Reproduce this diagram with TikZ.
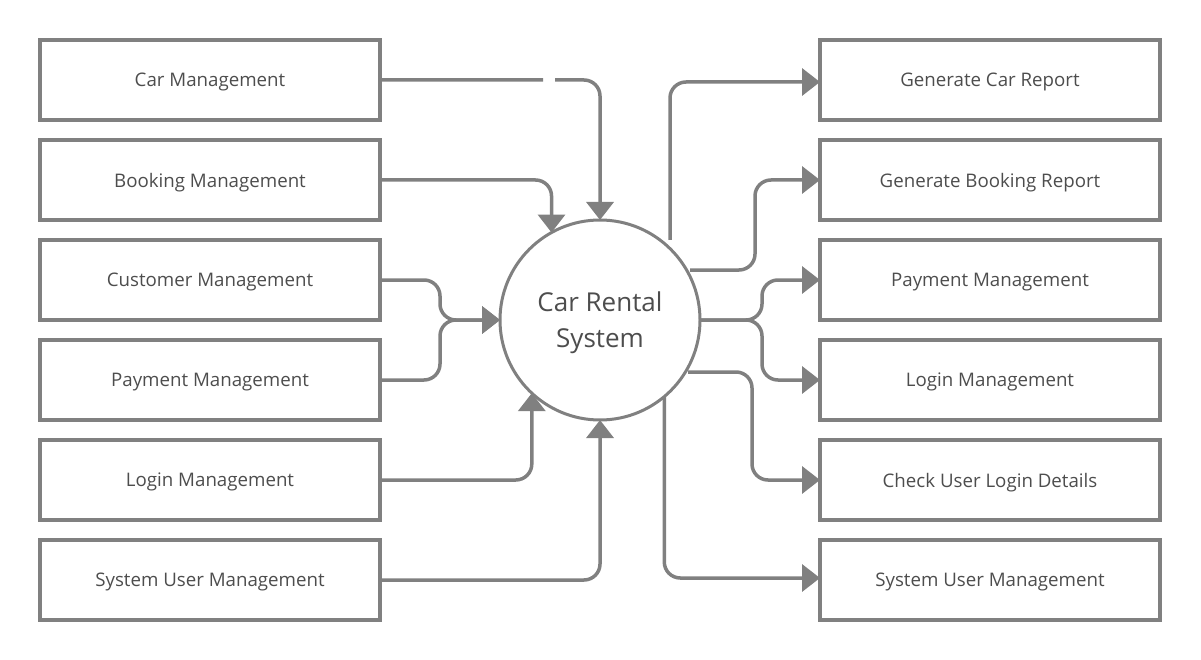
\documentclass[tikz,border=0pt]{standalone}
\usepackage{fontspec}
\setmainfont{Open Sans}
\usepackage{xcolor}
\usetikzlibrary{arrows.meta,calc}
\definecolor{linegray}{HTML}{808080}
\definecolor{textgray}{HTML}{4D4D4D}

\begin{document}
\begin{tikzpicture}[x=1pt,y=-1pt,
		box/.style={draw=linegray,line width=3.5pt,minimum width=340pt,minimum height=80pt,outer sep=0pt,text=textgray,text depth=0pt,font=\fontsize{18.7}{22}\selectfont},
		sys/.style={circle,draw=linegray,line width=3pt,minimum size=200pt,outer sep=0pt,text=textgray,align=center,font=\fontsize{26}{36}\selectfont},
		flow/.style={draw=linegray,line width=3.5pt,rounded corners=16pt,-{Triangle[width=27pt,length=18pt]}}]
			\useasboundingbox (0,0) rectangle (1201,660);
			% left side
			\node [box] (lcar) at (210,80) {Car Management};
			\node [box] (lbook) at (210,180) {Booking Management};
			\node [box] (lcust) at (210,280) {Customer Management};
			\node [box] (lpay) at (210,380) {Payment Management};
			\node [box] (llogin) at (210,480) {Login Management};
			\node [box] (lsys) at (210,580) {System User Management};
			% right side
			\node [box] (rcar) at (990,80) {Generate Car Report};
			\node [box] (rbook) at (990,180) {Generate Booking Report};
			\node [box] (rpay) at (990,280) {Payment Management};
			\node [box] (rlogin) at (990,380) {Login Management};
			\node [box] (rcheck) at (990,480) {Check User Login Details};
			\node [box] (rsys) at (990,580) {System User Management};
			\node [sys] (crs) at (600,320) {};
			\node [text=textgray,align=center,font=\fontsize{26}{36}\selectfont,yshift=-3pt] (crstext) at (crs.center) {Car Rental\\System};
			\coordinate (jl) at (440,320);
			\coordinate (jr) at (762,320);
			\coordinate (o1) at (670,240);
			\coordinate (o2) at (690,270);
			\coordinate (k2) at (755,180);
			\coordinate (o3) at (688,372);
			\coordinate (k3) at (752,480);
			% inputs
			\draw [flow, dash pattern={on 163pt off 12pt on 600pt off 0pt}] (lcar.east) -| (crs.north);
			\draw [flow] (lbook.east) -| (crs.119);
			\draw [flow] (lcust.east) -| (jl) -- (crs.west);
			\draw [flow] (lpay.east) -| (jl) -- (crs.west);
			\draw [flow] (llogin.east) -| (crs.227);
			\draw [flow] (lsys.east) -| (crs.south);
			% outputs
			\draw [flow] (o1) |- ([yshift=-2pt]rcar.west);
			\draw [flow] (o2) -| (k2) -- (rbook.west);
			\draw [flow] (crs.east) -- (jr) |- (rpay.west);
			\draw [flow] (crs.east) -- (jr) |- (rlogin.west);
			\draw [flow] (o3) -| (k3) -- (rcheck.west);
			\draw [flow] (crs.-50) |- ([yshift=2pt]rsys.west);
		\end{tikzpicture}
\end{document}
